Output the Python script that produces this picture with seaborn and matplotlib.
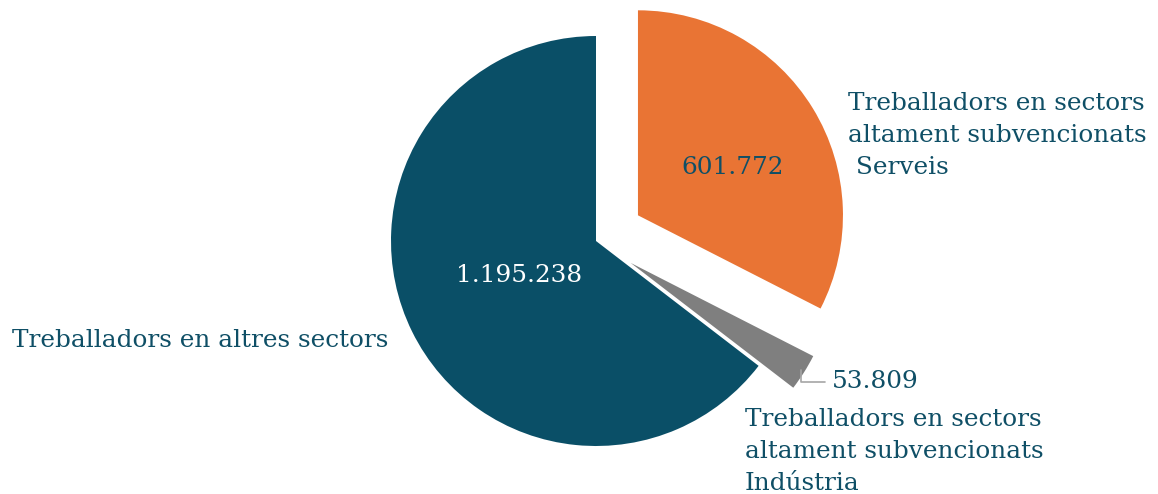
import numpy as np
import matplotlib
matplotlib.use("Agg")
import matplotlib.pyplot as plt
import seaborn as sns

# dades
categories = [
    "Treballadors en sectors\naltament subvencionats\n Serveis",
    "Treballadors en sectors\naltament subvencionats\nIndústria",
    "Treballadors en altres sectors",
]
values = [601772, 53809, 1195238]
value_labels = ["601.772", "53.809", "1.195.238"]

colors = ["#e97434", "#7f7f7f", "#0a4f67"]
text_col = "#0f4f66"

sns.set_theme(style="white")
plt.rcParams["font.family"] = ["DejaVu Serif", "DejaVu Sans"]

W, H = 1158, 494
R = 205.0          # radi en pixels
cx, cy = 596, 241  # centre en pixels


def px(x, y):
    # pixels -> coordenades de dades
    return (x - cx) / R, (cy - y) / R


fig = plt.figure(figsize=(W / 100, H / 100), dpi=100)
ax = fig.add_axes([0, 0, 1, 1])

explode = [0.24, 0.2, 0]
wedges, _ = ax.pie(values, colors=colors, startangle=90, counterclock=False,
                   explode=explode, radius=1.0, wedgeprops=dict(linewidth=0))

ax.set_xlim(-cx / R, (W - cx) / R)
ax.set_ylim(-(H - cy) / R, cy / R)
ax.set_aspect("equal")
ax.axis("off")

fs = 17.8
ls = 1.5

# valors dins dels sectors
ax.text(*px(733, 167), value_labels[0], ha="center", va="center",
        fontsize=fs, color=text_col)
ax.text(*px(519, 276), value_labels[2], ha="center", va="center",
        fontsize=fs, color="white")

# etiquetes de categoria
ax.text(*px(848, 135), categories[0], ha="left", va="center",
        fontsize=fs, color=text_col, linespacing=ls)
ax.text(*px(12, 340), categories[2], ha="left", va="center",
        fontsize=fs, color=text_col)
ax.text(*px(745, 451), categories[1], ha="left", va="center",
        fontsize=fs, color=text_col, linespacing=ls)

# valor de l'indústria amb línia guia
frac = np.cumsum(values) / np.sum(values)
mid = np.deg2rad(90 - 360 * (frac[0] + frac[1]) / 2)
tip = ((1 + explode[1] - 0.02) * np.cos(mid), (1 + explode[1] - 0.02) * np.sin(mid))
ax.annotate(value_labels[1], xy=tip, xytext=px(832, 382),
            ha="left", va="center", fontsize=fs, color=text_col,
            arrowprops=dict(arrowstyle="-", color="#a6a6a6", lw=1.2,
                            relpos=(0, 0.5), shrinkA=3, shrinkB=0,
                            connectionstyle="angle,angleA=0,angleB=90,rad=0"))

fig.savefig("out.png", dpi=100)
